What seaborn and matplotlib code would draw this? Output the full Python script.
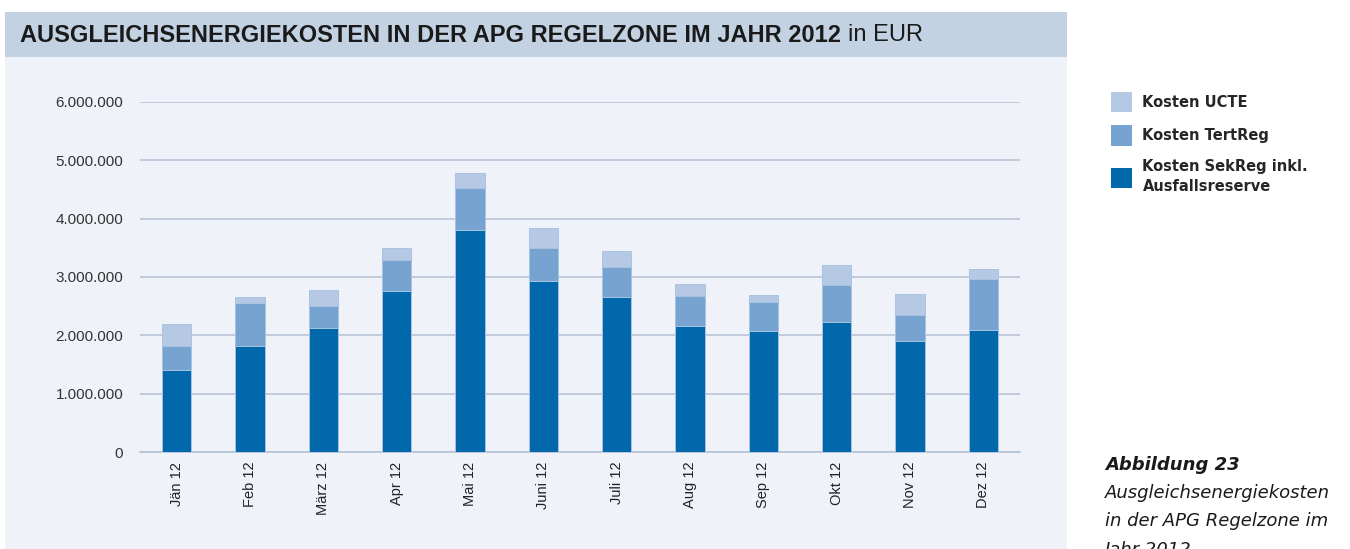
import numpy as np
import pandas as pd
import matplotlib
matplotlib.use("Agg")
import matplotlib.pyplot as plt
import seaborn as sns
from matplotlib.patches import Rectangle, Patch
from matplotlib.ticker import FuncFormatter, FixedLocator

# data (EUR)
months = ["Jän 12", "Feb 12", "März 12", "Apr 12", "Mai 12", "Juni 12",
          "Juli 12", "Aug 12", "Sep 12", "Okt 12", "Nov 12", "Dez 12"]
sekreg = [1400000, 1817000, 2131000, 2754000, 3800000, 2937000,
          2657000, 2166000, 2074000, 2223000, 1909000, 2086000]
tertreg = [410000, 737000, 372000, 537000, 720000, 554000,
           509000, 503000, 492000, 634000, 445000, 874000]
ucte = [390000, 97000, 268000, 200000, 257000, 343000,
        285000, 205000, 131000, 343000, 349000, 183000]

labels = ["Kosten UCTE", "Kosten TertReg", "Kosten SekReg inkl.\nAusfallsreserve"]
colors = ["#b5c9e5", "#77a3d0", "#0068ab"]

df = pd.DataFrame({"Monat": months, "SekReg": sekreg, "TertReg": tertreg, "UCTE": ucte})
# cumulative heights for stacking (draw tallest first)
df["lvl3"] = df["SekReg"] + df["TertReg"] + df["UCTE"]
df["lvl2"] = df["SekReg"] + df["TertReg"]
df["lvl1"] = df["SekReg"]

sns.set_style("white")
plt.rcParams["font.family"] = ["Liberation Sans", "DejaVu Sans"]

W, H = 1350, 549
fig = plt.figure(figsize=(W / 100, H / 100), dpi=100)
fig.patch.set_facecolor("white")

# background panel and title banner
fig.patches.append(Rectangle((5 / W, 0), 1062 / W, 1 - 57 / H, transform=fig.transFigure,
                             facecolor="#eff3f9", edgecolor="none", zorder=-5))
fig.patches.append(Rectangle((5 / W, 1 - 57 / H), 1062 / W, 45 / H, transform=fig.transFigure,
                             facecolor="#c3d2e3", edgecolor="none", zorder=-5))

ax = fig.add_axes([140 / W, 1 - 452 / H, 880 / W, 350 / H])
ax.set_zorder(2)
ax.set_facecolor("none")

for col, c in zip(["lvl3", "lvl2", "lvl1"], colors):
    sns.barplot(data=df, x="Monat", y=col, color=c, width=0.4, ax=ax,
                edgecolor="#a9c3e2", linewidth=0.7, saturation=1, zorder=3)

ax.set_xlim(-0.5, 11.5)
ax.set_ylim(0, 6000000)
ax.set_yticks(np.arange(0, 6000001, 1000000))
ax.yaxis.set_major_formatter(FuncFormatter(lambda v, p: f"{v:,.0f}".replace(",", ".")))
ax.grid(axis="y", color="#b4c0d3", linewidth=1.1, zorder=0)
ax.grid(axis="x", visible=False)
ax.set_axisbelow(True)
ax.set_xlabel("")
ax.set_ylabel("")

for s in ["top", "right", "left"]:
    ax.spines[s].set_visible(False)
ax.spines["bottom"].set_color("#b5c2d6")
ax.spines["bottom"].set_linewidth(1.2)

ax.tick_params(axis="y", length=0, pad=12, labelsize=11, labelcolor="#333333")
ax.tick_params(axis="x", which="major", length=0, pad=7, labelsize=10.5, labelcolor="#222222")
ax.set_xticks(range(len(months)))
ax.set_xticklabels(months, rotation=90, va="top", ha="center")
ax.xaxis.set_minor_locator(FixedLocator(np.arange(-0.5, 12, 1)))
ax.tick_params(axis="x", which="minor", length=6, color="#b5c2d6", width=1.2)

# legend
handles = [Patch(facecolor=c, edgecolor="none") for c in colors]
leg = fig.legend(handles, labels, loc="upper left", bbox_to_anchor=(1098 / W, 1 - 79 / H),
                 frameon=False, handlelength=1.4, handleheight=1.75, handletextpad=0.75,
                 labelspacing=0.9, prop={"weight": "bold", "size": 10.5, "family": "DejaVu Sans"})
for txt in leg.get_texts():
    txt.set_linespacing(1.45)

# title
t = fig.text(20 / W, 1 - 35 / H, "AUSGLEICHSENERGIEKOSTEN IN DER APG REGELZONE IM JAHR 2012",
             fontsize=17, fontweight="bold", va="center", color="#1a1a1a",
             family="Liberation Sans")
fig.canvas.draw()
bb = t.get_window_extent()
fig.text(bb.x1 / W + 7 / W, 1 - 35 / H, "in EUR", fontsize=17, va="center", color="#1a1a1a",
         family="Liberation Sans")

# caption
cap = dict(family="DejaVu Sans", fontsize=13, color="#1a1a1a", style="italic", va="center")
fig.text(1105 / W, 1 - 465 / H, "Abbildung 23", fontweight="bold", **cap)
fig.text(1105 / W, 1 - 493 / H, "Ausgleichsenergiekosten", **cap)
fig.text(1105 / W, 1 - 521 / H, "in der APG Regelzone im", **cap)
fig.text(1105 / W, 1 - 550 / H, "Jahr 2012", **cap)

fig.savefig("out.png", dpi=100)
